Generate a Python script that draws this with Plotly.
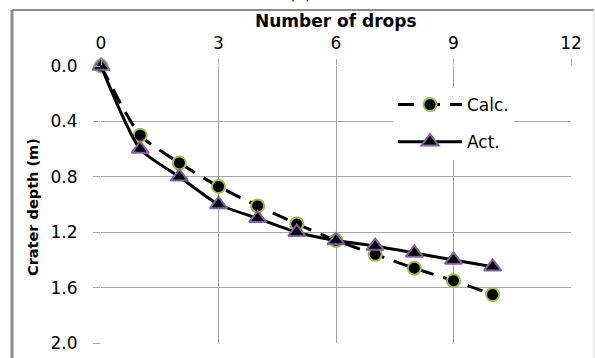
import plotly.graph_objects as go

# Crater depth versus number of drops
drops = [0, 1, 2, 3, 4, 5, 6, 7, 8, 9, 10]
calc_depth = [0.0, 0.50, 0.70, 0.87, 1.01, 1.14, 1.26, 1.36, 1.46, 1.55, 1.65]
act_depth = [0.0, 0.60, 0.80, 1.00, 1.10, 1.20, 1.26, 1.30, 1.35, 1.40, 1.45]

x_ticks = [0, 3, 6, 9, 12]
y_ticks = [0.0, 0.4, 0.8, 1.2, 1.6, 2.0]

FONT = "DejaVu Sans"
GRID = "#a6a6a6"

fig = go.Figure()

fig.add_trace(go.Scatter(
    x=drops, y=calc_depth, name="Calc.", mode="lines+markers",
    line=dict(color="black", width=3, dash="16px,10px", shape="spline", smoothing=0.6),
    marker=dict(symbol="circle", size=13, color="black",
                line=dict(color="#9bbb59", width=2)),
    cliponaxis=False, legendgroup="a",
))
fig.add_trace(go.Scatter(
    x=drops, y=act_depth, name="Act.", mode="lines+markers",
    line=dict(color="black", width=3, shape="spline", smoothing=0.6),
    marker=dict(symbol="triangle-up", size=15, color="black",
                line=dict(color="#8064a2", width=2)),
    cliponaxis=False, legendgroup="b",
))

L, R, T, B = 101, 24, 66, 15
W, H = 595, 358
pw, ph = W - L - R, H - T - B


def px_x(p):
    return (p - L) / pw


def px_y(p):
    return 1 - (p - T) / ph


# chart-area frame
frame = [
    (12, 10, 12, 362, "#8c8c8c", 3),
    (12, 10, 594, 10, "#8c8c8c", 2),
    (594, 10, 594, 362, "#d9d9d9", 1),
]
shapes = [
    dict(type="line", xref="paper", yref="paper",
         x0=px_x(a), y0=px_y(b), x1=px_x(c), y1=px_y(d),
         line=dict(color=col, width=w))
    for a, b, c, d, col, w in frame
]

fig.update_layout(
    width=W, height=H,
    margin=dict(l=L, r=R, t=T, b=B),
    paper_bgcolor="white", plot_bgcolor="white",
    font=dict(family=FONT, size=16, color="black"),
    shapes=shapes,
    showlegend=True,
    legend=dict(
        x=px_x(393), y=px_y(87), xanchor="left", yanchor="top",
        bgcolor="white", font=dict(family=FONT, size=17),
        traceorder="grouped", tracegroupgap=12,
        itemwidth=64,
    ),
    annotations=[
        dict(text="(a)", xref="paper", yref="paper",
             x=px_x(300), y=px_y(5), xanchor="center", yanchor="bottom",
             showarrow=False, font=dict(family=FONT, size=16)),
        dict(text="<b>Number of drops</b>", xref="paper", yref="paper",
             x=px_x(336), y=px_y(21), xanchor="center", yanchor="middle",
             showarrow=False, font=dict(family=FONT, size=17)),
        dict(text="<b>Crater depth (m)</b>", xref="paper", yref="paper",
             x=px_x(33), y=px_y(207), xanchor="center", yanchor="middle",
             textangle=-90, showarrow=False, font=dict(family=FONT, size=14.5)),
    ],
)

fig.update_xaxes(
    side="top", range=[0, 12], tickvals=x_ticks,
    showgrid=True, gridcolor=GRID, gridwidth=1,
    zeroline=False, showline=False,
    ticks="outside", ticklen=6, tickcolor=GRID,
    ticklabelstandoff=3,
    tickfont=dict(family=FONT, size=17),
    automargin=False,
)
fig.update_yaxes(
    range=[2.0, 0.0], tickvals=y_ticks, tickformat=".1f",
    showgrid=True, gridcolor=GRID, gridwidth=1,
    zeroline=False, showline=False,
    ticks="outside", ticklen=7, tickcolor=GRID,
    ticklabelstandoff=12,
    tickfont=dict(family=FONT, size=17),
    automargin=False,
)

fig.write_html("out.html")
